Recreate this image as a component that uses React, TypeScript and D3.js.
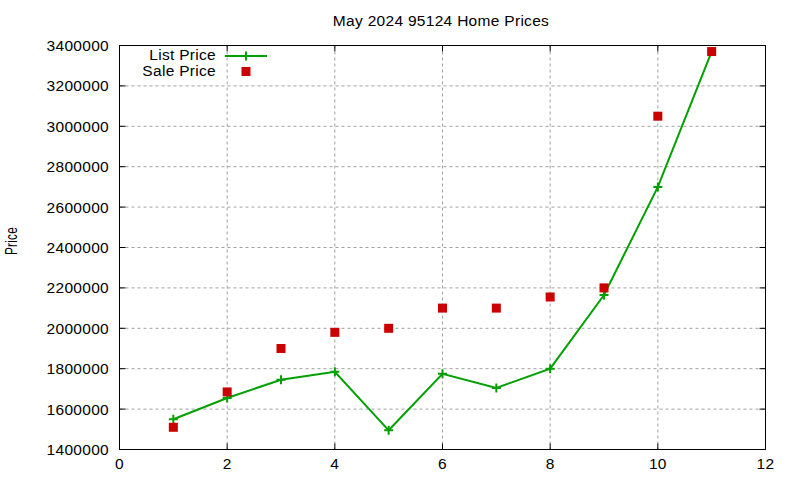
import React from "react";
import * as d3 from "d3";

const months = [1, 2, 3, 4, 5, 6, 7, 8, 9, 10, 11];
const listPrice = [1550000, 1655000, 1745000, 1785000, 1495000, 1775000, 1705000, 1800000, 2165000, 2700000, 3370000];
const salePrice = [1510000, 1685000, 1900000, 1980000, 2000000, 2100000, 2100000, 2155000, 2200000, 3050000, 3370000];
const xTicks = [0, 2, 4, 6, 8, 10, 12];
const yTicks = [1400000, 1600000, 1800000, 2000000, 2200000, 2400000, 2600000, 2800000, 3000000, 3200000, 3400000];

const W = 800, H = 480;
const L = 119.5, R = 765.5, T = 45.5, B = 449.5;
const FONT = "'Liberation Sans', Arial, sans-serif";
const GREEN = "#00a000";
const RED = "#cc0000";

export default function App() {
  const x = d3.scaleLinear().domain([0, 12]).range([L, R]);
  const y = d3.scaleLinear().domain([1400000, 3400000]).range([B, T]);
  const line = d3.line<number>().x((_, i) => x(months[i])).y((d) => y(d));
  const plus = (cx: number, cy: number, k: string) => (
    <path key={k} d={`M${cx - 4.5},${cy}H${cx + 4.5}M${cx},${cy - 4.5}V${cy + 4.5}`} stroke={GREEN} strokeWidth={2} />
  );
  const sq = (cx: number, cy: number, k: string) => (
    <rect key={k} x={cx - 4.5} y={cy - 4.5} width={9} height={9} fill={RED} />
  );
  const tf = { fontFamily: FONT, fontSize: 15.5, letterSpacing: 0.3, fill: "#000" } as const;
  return (
    <svg width={W} height={H} style={{ position: "absolute", left: 0, top: 0, background: "#fff" }}>
      <rect width={W} height={H} fill="#fff" />
      {/* grid */}
      {xTicks.slice(1, -1).map((t) => (
        <line key={"gx" + t} x1={x(t)} x2={x(t)} y1={T} y2={B} stroke="#a0a0a0" strokeWidth={1} strokeDasharray="3,3" />
      ))}
      {yTicks.slice(1, -1).map((t) => (
        <line key={"gy" + t} x1={L} x2={R} y1={y(t)} y2={y(t)} stroke="#a0a0a0" strokeWidth={1} strokeDasharray="3,3" />
      ))}
      {/* ticks */}
      {xTicks.map((t) => (
        <g key={"tx" + t}>
          <line x1={x(t)} x2={x(t)} y1={B} y2={B - 6} stroke="#000" />
          <line x1={x(t)} x2={x(t)} y1={T} y2={T + 6} stroke="#000" />
          <text x={x(t)} y={469} textAnchor="middle" {...tf}>{t}</text>
        </g>
      ))}
      {yTicks.map((t) => (
        <g key={"ty" + t}>
          <line x1={L} x2={L + 6} y1={y(t)} y2={y(t)} stroke="#000" />
          <line x1={R} x2={R - 6} y1={y(t)} y2={y(t)} stroke="#000" />
          <text x={109} y={y(t) + 5.5} textAnchor="end" {...tf}>{t}</text>
        </g>
      ))}
      <rect x={L} y={T} width={R - L} height={B - T} fill="none" stroke="#000" strokeWidth={1} />
      {/* data */}
      <path d={line(listPrice) || ""} fill="none" stroke={GREEN} strokeWidth={2} />
      {listPrice.map((v, i) => plus(x(months[i]), y(v), "p" + i))}
      {salePrice.map((v, i) => sq(x(months[i]), y(v), "s" + i))}
      {/* legend */}
      <text x={216} y={59.5} textAnchor="end" {...tf}>List Price</text>
      <line x1={225} x2={267} y1={56} y2={56} stroke={GREEN} strokeWidth={2} />
      {plus(246, 56, "lp")}
      <text x={216} y={75.5} textAnchor="end" {...tf}>Sale Price</text>
      {sq(246, 71.5, "ls")}
      {/* titles */}
      <text x={441} y={26} textAnchor="middle" {...tf}>May 2024 95124 Home Prices</text>
      <text transform="translate(16.5,241) rotate(-90) scale(0.74,1)" textAnchor="middle" {...tf} fontSize={16}>Price</text>
    </svg>
  );
}
